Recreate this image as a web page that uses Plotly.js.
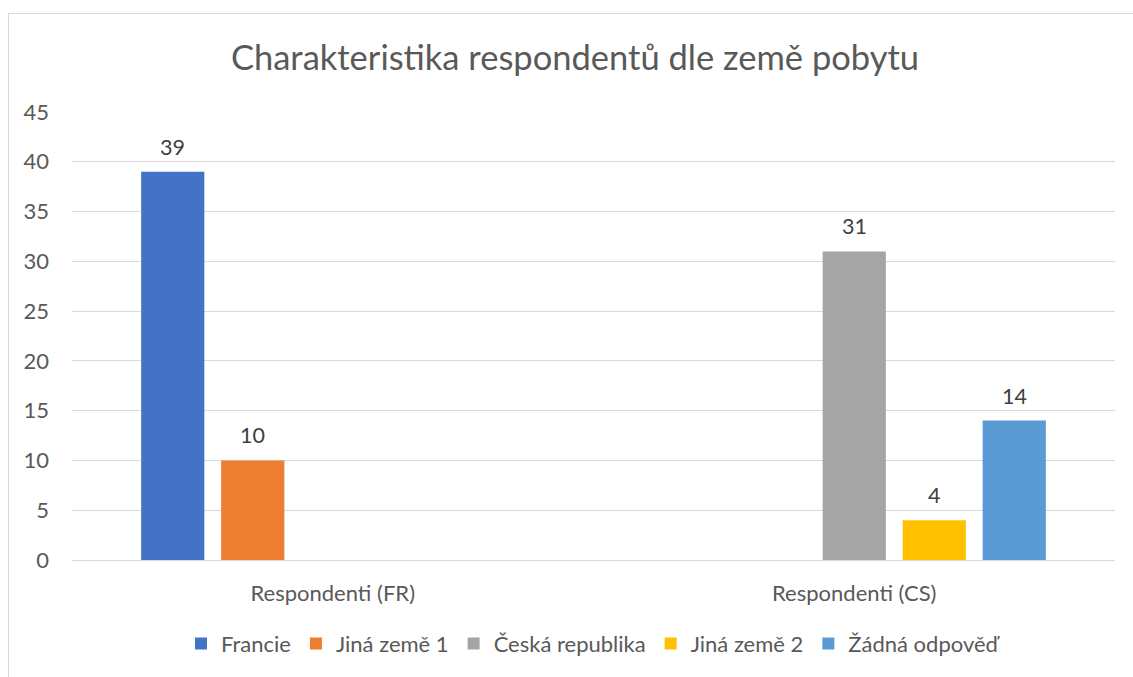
<!DOCTYPE html>
<html><head><meta charset="utf-8">
<script src="https://cdn.plot.ly/plotly-3.0.1.min.js"></script>
<style>
html,body{margin:0;padding:0;background:#fff;overflow:hidden;}
#frame{position:absolute;left:8px;top:13px;width:1200px;height:700px;border:1px solid #D9D9D9;box-sizing:border-box;}
#chart{position:absolute;left:0;top:0;width:1133px;height:677px;}
</style></head>
<body><div id="frame"></div><div id="chart"></div>
<script>
const categories = ["Respondenti (FR)", "Respondenti (CS)"];
const seriesNames = ["Francie", "Jiná země 1", "Česká republika", "Jiná země 2", "Žádná odpověď"];
const francie = [39, null];
const jinaZeme1 = [10, null];
const ceskaRepublika = [null, 31];
const jinaZeme2 = [null, 4];
const zadnaOdpoved = [null, 14];
const colors = ["#4472C4", "#ED7D31", "#A5A5A5", "#FFC000", "#5B9BD5"];
const yTicks = [0, 5, 10, 15, 20, 25, 30, 35, 40, 45];

const FONT = "Lato, 'Open Sans', sans-serif";
const BARGAP = 0.233;
const values = [francie, jinaZeme1, ceskaRepublika, jinaZeme2, zadnaOdpoved];
const data = values.map((v, i) => ({
  type: "bar", name: seriesNames[i], x: categories, y: v,
  marker: {color: colors[i]},
  hoverinfo: "x+y+name"
}));

// data labels as annotations placed through the axes (category index + group offset)
const n = values.length;
const slot = (1 - BARGAP) / n;
const annotations = [];
values.forEach((v, i) => {
  v.forEach((d, c) => {
    if (d == null) return;
    annotations.push({
      xref: "x", yref: "y", x: c + (i - (n - 1) / 2) * slot, y: d,
      text: String(d), showarrow: false, xanchor: "center", yanchor: "middle", yshift: 25,
      font: {family: FONT, size: 21.5, color: "#404040"}
    });
  });
});

const layout = {
  width: 1133, height: 677,
  paper_bgcolor: "rgba(0,0,0,0)", plot_bgcolor: "rgba(0,0,0,0)",
  margin: {l: 72, r: 18, t: 112, b: 115},
  font: {family: FONT, color: "#595959", size: 22},
  title: {text: "Charakteristika respondentů dle země pobytu", x: 575 / 1133, xanchor: "center", y: 1 - 58/677, yanchor: "middle",
    font: {family: FONT, size: 34.5, color: "#595959"}},
  barmode: "group", bargap: BARGAP, bargroupgap: 0.21,
  xaxis: {type: "category", showgrid: false, showline: true, linecolor: "#D9D9D9", linewidth: 1,
    ticks: "", ticklabelstandoff: 14, tickfont: {family: FONT, size: 22, color: "#595959"}, zeroline: false},
  yaxis: {range: [0, 45], tickvals: yTicks, showgrid: true, gridcolor: "#D9D9D9", gridwidth: 1,
    zeroline: false, showline: false, ticks: "", ticklabelstandoff: 22,
    tickfont: {family: FONT, size: 22, color: "#595959"}},
  annotations: annotations,
  showlegend: true,
  legend: {orientation: "h", x: 0.5, xanchor: "center", y: -0.187, yanchor: "middle",
    font: {family: FONT, size: 22, color: "#595959"}, traceorder: "normal", itemwidth: 30}
};
Plotly.newPlot("chart", data, layout, {displayModeBar: false, staticPlot: true});
</script></body></html>
